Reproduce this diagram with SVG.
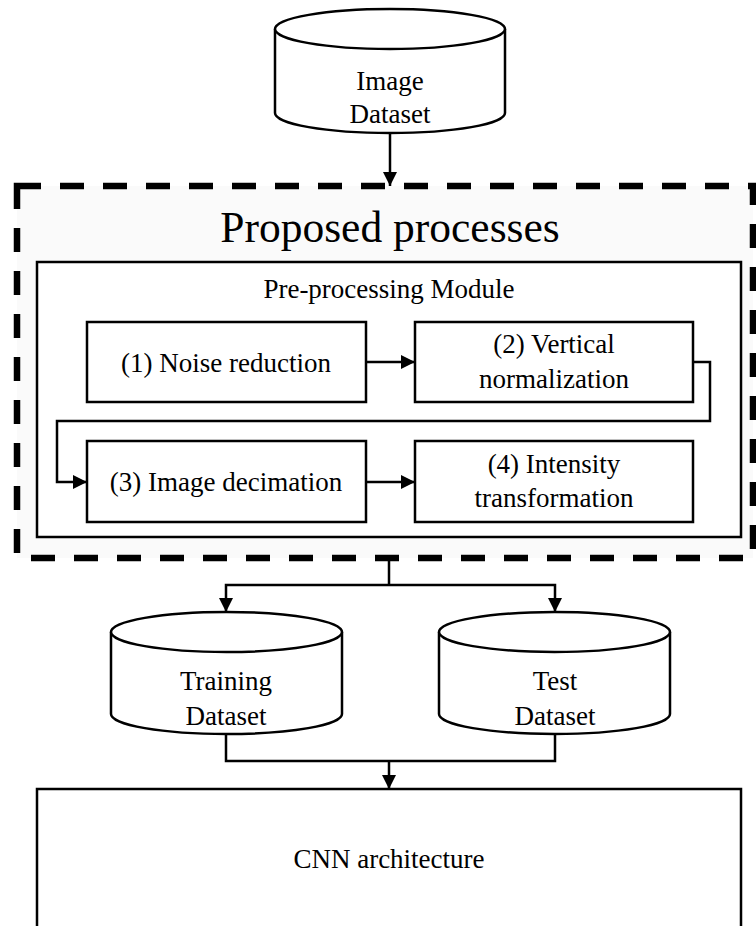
<svg xmlns="http://www.w3.org/2000/svg" width="756" height="926" viewBox="0 0 756 926">
  <style>
    text { font-family: "Liberation Serif", "Times New Roman", serif; font-size: 27px; fill: #000; text-anchor: middle; }
    .title { font-size: 43.5px; }
    .box { fill: #fff; stroke: #000; stroke-width: 2.5; }
    .cyl { fill: #fff; stroke: #000; stroke-width: 2.5; }
    .wire { fill: none; stroke: #000; stroke-width: 2.5; }
    .dash { fill: #fafafa; stroke: #000; stroke-width: 6.5; stroke-dasharray: 24 19; }
  </style>
  <defs>
    <marker id="arrow" viewBox="0 0 14 14" refX="14" refY="7" markerWidth="14" markerHeight="14" markerUnits="userSpaceOnUse" orient="auto">
      <path d="M0,0 L14,7 L0,14 Z" fill="#000"/>
    </marker>
  </defs>

  <rect width="756" height="926" fill="#fff"/>

  <!-- proposed processes frame -->
  <g id="proposed-processes">
    <rect class="dash" x="17" y="186" width="736" height="372"/>
    <text class="title" x="390" y="242">Proposed processes</text>
  </g>

  <!-- pre-processing module container -->
  <g id="preprocessing-module">
    <rect class="box" x="37" y="262" width="704" height="275"/>
    <text x="389" y="298">Pre-processing Module</text>
  </g>

  <g id="noise-reduction">
    <rect class="box" x="87" y="322" width="279" height="80"/>
    <text x="226" y="372">(1) Noise reduction</text>
  </g>

  <g id="vertical-normalization">
    <rect class="box" x="415" y="322" width="278" height="80"/>
    <text x="554" y="353">(2) Vertical</text>
    <text x="554" y="388">normalization</text>
  </g>

  <g id="image-decimation">
    <rect class="box" x="87" y="441" width="279" height="81"/>
    <text x="226" y="491">(3) Image decimation</text>
  </g>

  <g id="intensity-transformation">
    <rect class="box" x="415" y="441" width="278" height="81"/>
    <text x="554" y="473">(4) Intensity</text>
    <text x="554" y="507">transformation</text>
  </g>

  <!-- datasets -->
  <g id="image-dataset">
    <path class="cyl" d="M275,29 L275,113 A115,20 0 0 0 505,113 L505,29 A115,20 0 0 0 275,29 Z"/>
    <path class="cyl" d="M275,29 A115,20 0 0 0 505,29"/>
    <text x="390" y="90">Image</text>
    <text x="390" y="123">Dataset</text>
  </g>

  <g id="training-dataset">
    <path class="cyl" d="M111,632 L111,714 A115.5,20 0 0 0 342,714 L342,632 A115.5,20 0 0 0 111,632 Z"/>
    <path class="cyl" d="M111,632 A115.5,20 0 0 0 342,632"/>
    <text x="226" y="690">Training</text>
    <text x="226" y="725">Dataset</text>
  </g>

  <g id="test-dataset">
    <path class="cyl" d="M439,632 L439,714 A115.5,20 0 0 0 670,714 L670,632 A115.5,20 0 0 0 439,632 Z"/>
    <path class="cyl" d="M439,632 A115.5,20 0 0 0 670,632"/>
    <text x="555" y="690">Test</text>
    <text x="555" y="725">Dataset</text>
  </g>

  <g id="cnn-architecture">
    <rect class="box" x="37" y="789" width="704" height="150"/>
    <text x="389" y="868">CNN architecture</text>
  </g>

  <!-- connectors -->
  <g id="connectors">
    <path class="wire" d="M390,133 L390,186" marker-end="url(#arrow)"/>
    <path class="wire" d="M366,362 L415,362" marker-end="url(#arrow)"/>
    <path class="wire" d="M693,362 L710,362 L710,421 L57,421 L57,482 L87,482" marker-end="url(#arrow)"/>
    <path class="wire" d="M366,482 L415,482" marker-end="url(#arrow)"/>
    <path class="wire" d="M389,561 L389,585"/>
    <path class="wire" d="M389,585 L226,585 L226,612" marker-end="url(#arrow)"/>
    <path class="wire" d="M389,585 L555,585 L555,612" marker-end="url(#arrow)"/>
    <path class="wire" d="M226,734 L226,761 L555,761 L555,734"/>
    <path class="wire" d="M389,761 L389,789" marker-end="url(#arrow)"/>
  </g>
</svg>
